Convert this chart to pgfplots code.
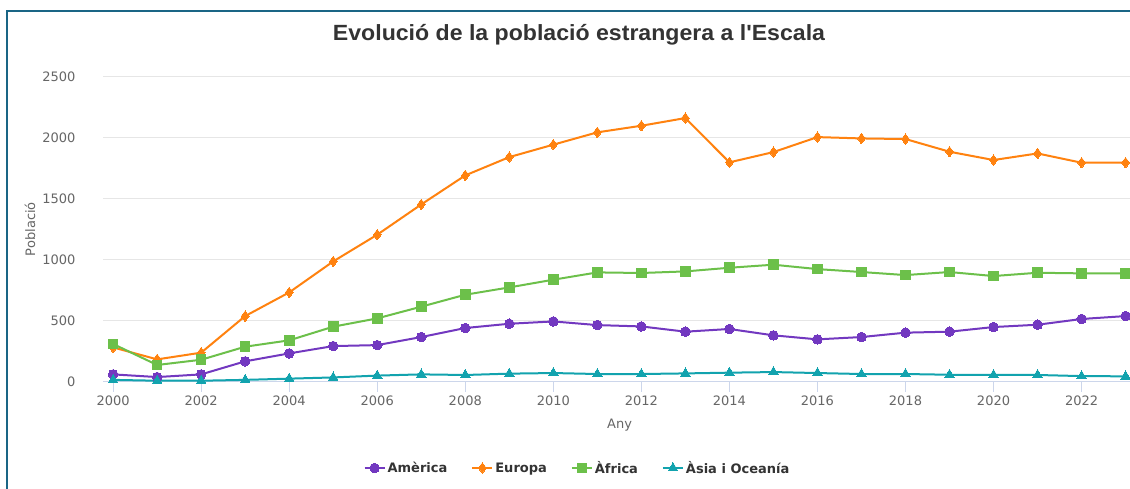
\documentclass[border=0pt]{standalone}
\usepackage{fontspec}
\setmainfont{DejaVu Sans}
\newfontfamily\titlefont{Liberation Sans}
\usepackage{pgfplots}
\pgfplotsset{compat=1.18}
\definecolor{cAm}{HTML}{7238C0}
\definecolor{cEu}{HTML}{FF820F}
\definecolor{cAf}{HTML}{6CC04A}
\definecolor{cAs}{HTML}{12A3AE}
\definecolor{border}{HTML}{1A6585}
\definecolor{gridc}{HTML}{E6E6E6}
\definecolor{axisc}{HTML}{CCD6EB}
\definecolor{labc}{HTML}{666666}
\definecolor{titc}{HTML}{333333}
\begin{document}
\begin{tikzpicture}[x=1pt,y=1pt]
\useasboundingbox (0,0) rectangle (1130,488);
\fill[white] (0,0) rectangle (1130,488);
\draw[line width=2pt, border] (6.5,-2) -- (6.5,477) -- (1132,477);
\node[text=titc, font=\titlefont\bfseries\fontsize{22}{26}\selectfont] at (579,453) {\scalebox{1.05}[1]{Evolució de la població estrangera a l'Escala}};
\begin{axis}[
  at={(103pt,106.3pt)}, anchor=south west,
  scale only axis, width=1027pt, height=305pt,
  xmin=1999.77, xmax=2023.1, ymin=0, ymax=2500,
  axis x line=bottom, axis y line=left,
  x axis line style={draw=axisc, line width=1pt, -},
  y axis line style={draw=none},
  xtick={2000,2002,...,2022},
  ytick={0,500,...,2500},
  tick align=outside,
  major tick length=10pt,
  xtick style={draw=axisc, line width=1pt},
  ytick style={draw=none},
  ymajorgrids, grid style={draw=gridc, line width=1pt},
  /pgf/number format/assume math mode=true,
  /pgf/number format/1000 sep={},
  tick label style={font=\fontsize{13}{15}\selectfont, text=labc},
  yticklabel style={xshift=-14pt},
  xticklabel style={yshift=-1pt},
  xlabel={Any}, ylabel={Població},
  label style={font=\fontsize{13}{15}\selectfont, text=labc},
  xlabel style={at={(axis description cs:0.503,-0.142)}, anchor=center},
  ylabel style={at={(axis description cs:-0.0711,0.5)}, anchor=center, rotate=0},
  legend columns=4,
  legend style={at={(axis description cs:0.462,-0.283)}, anchor=center, draw=none, fill=none,
    font=\bfseries\fontsize{13}{15}\selectfont, text=titc,
    /tikz/every even column/.append style={column sep=22pt},
    /tikz/every odd column/.append style={column sep=0pt}},
  legend image code/.code={\draw[#1,mark repeat=2,mark phase=2] plot coordinates {(0pt,0pt) (10pt,0pt) (20pt,0pt)};},
  every axis plot/.append style={line width=2pt},
]
\addplot[color=cAm, mark=*, mark size=4.8pt, mark options={solid, fill=cAm, line width=0pt}] coordinates {
(2000,60)(2001,38)(2002,60)(2003,167)(2004,232)(2005,292)(2006,300)(2007,366)(2008,440)(2009,475)(2010,494)(2011,464)(2012,453)(2013,410)(2014,432)(2015,380)(2016,347)(2017,366)(2018,402)(2019,410)(2020,448)(2021,467)(2022,514)(2023,538)};
\addlegendentry{Amèrica}
\addplot[color=cEu, mark=diamond*, mark size=5.2pt, mark options={solid, fill=cEu, line width=0pt}] coordinates {
(2000,281)(2001,183)(2002,238)(2003,538)(2004,732)(2005,986)(2006,1205)(2007,1453)(2008,1691)(2009,1841)(2010,1943)(2011,2044)(2012,2098)(2013,2161)(2014,1798)(2015,1882)(2016,2005)(2017,1994)(2018,1989)(2019,1885)(2020,1817)(2021,1871)(2022,1795)(2023,1795)};
\addlegendentry{Europa}
\addplot[color=cAf, mark=square*, mark size=4.8pt, mark options={solid, fill=cAf, line width=0pt}] coordinates {
(2000,309)(2001,137)(2002,180)(2003,287)(2004,339)(2005,451)(2006,519)(2007,615)(2008,713)(2009,773)(2010,836)(2011,896)(2012,891)(2013,904)(2014,934)(2015,959)(2016,923)(2017,899)(2018,874)(2019,899)(2020,866)(2021,893)(2022,888)(2023,888)};
\addlegendentry{Àfrica}
\addplot[color=cAs, mark=triangle*, mark size=5.5pt, mark options={solid, fill=cAs, line width=0pt}] coordinates {
(2000,15)(2001,8)(2002,8)(2003,15)(2004,25)(2005,35)(2006,50)(2007,60)(2008,55)(2009,66)(2010,71)(2011,63)(2012,63)(2013,68)(2014,74)(2015,79)(2016,71)(2017,63)(2018,63)(2019,57)(2020,55)(2021,55)(2022,46)(2023,44)};
\addlegendentry{Àsia i Oceanía}
\end{axis}
\end{tikzpicture}
\end{document}
